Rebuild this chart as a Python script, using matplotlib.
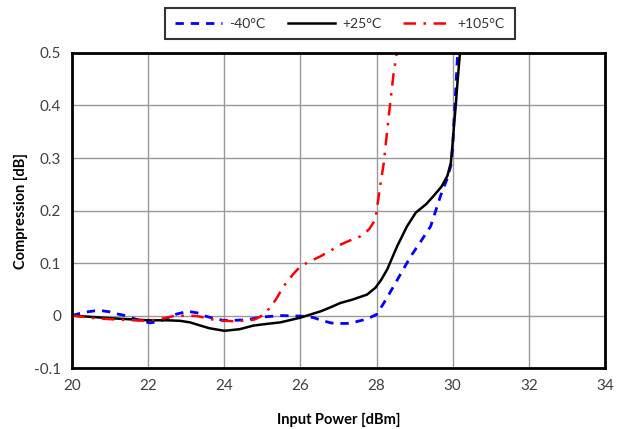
import matplotlib
matplotlib.use("Agg")
import matplotlib.pyplot as plt

plt.rcParams['font.family'] = ['Lato', 'DejaVu Sans']

# -40°C
p_cold = [20.0, 20.2, 20.4, 20.6, 20.8, 21.0, 21.2, 21.4, 21.6, 21.8, 22.05, 22.3, 22.5, 22.75,
          23.05, 23.3, 23.5, 23.75, 23.97, 24.3, 24.6, 24.95, 25.5, 26.0, 26.2, 26.35, 26.55,
          26.8, 27.0, 27.23, 27.45, 27.67, 27.85, 28.0, 28.2, 28.45, 28.7, 28.9, 29.15, 29.42,
          29.68, 29.85, 29.95, 30.0, 30.03, 30.08, 30.12, 30.2]
c_cold = [0.0, 0.004, 0.007, 0.009, 0.009, 0.007, 0.003, 0.0, -0.005, -0.01, -0.014, -0.011,
          -0.005, 0.003, 0.008, 0.005, -0.001, -0.006, -0.009, -0.009, -0.008, -0.003, 0.0,
          -0.001, -0.002, -0.004, -0.009, -0.014, -0.015, -0.015, -0.012, -0.008, -0.003, 0.002,
          0.025, 0.056, 0.088, 0.113, 0.14, 0.17, 0.228, 0.26, 0.285, 0.32, 0.368, 0.43, 0.489, 0.52]

# +25°C
p_room = [20.0, 21.0, 22.0, 22.5, 22.84, 23.1, 23.28, 23.6, 24.0, 24.4, 24.77, 25.1, 25.47,
          26.0, 26.35, 26.53, 26.8, 27.05, 27.35, 27.75, 27.97, 28.12, 28.28, 28.54, 28.8, 29.03,
          29.3, 29.5, 29.7, 29.86, 29.95, 30.0, 30.04, 30.08, 30.12, 30.19]
c_room = [0.0, -0.005, -0.009, -0.009, -0.01, -0.013, -0.017, -0.024, -0.029, -0.026, -0.019,
          -0.016, -0.013, -0.004, 0.004, 0.008, 0.016, 0.024, 0.03, 0.04, 0.053, 0.068, 0.088,
          0.132, 0.17, 0.196, 0.212, 0.228, 0.245, 0.266, 0.291, 0.33, 0.368, 0.4, 0.44, 0.5]

# +105°C
p_hot = [20.0, 20.6, 21.26, 22.0, 22.35, 22.67, 23.0, 23.28, 23.5, 23.72, 24.0, 24.33, 24.77,
         24.95, 25.12, 25.35, 25.56, 25.8, 26.0, 26.3, 26.53, 26.8, 27.05, 27.3, 27.58, 27.8,
         27.97, 28.08, 28.19, 28.32, 28.45, 28.53, 28.56]
c_hot = [0.0, -0.005, -0.008, -0.01, -0.006, -0.001, 0.0, -0.001, -0.004, -0.008, -0.01,
         -0.011, -0.008, -0.002, 0.008, 0.03, 0.056, 0.078, 0.094, 0.105, 0.113, 0.124, 0.135,
         0.143, 0.151, 0.164, 0.183, 0.24, 0.291, 0.38, 0.463, 0.5, 0.52]

x_ticks = [20, 22, 24, 26, 28, 30, 32, 34]
y_ticks = [-0.1, 0, 0.1, 0.2, 0.3, 0.4, 0.5]
y_labels = ["-0.1", "0", "0.1", "0.2", "0.3", "0.4", "0.5"]

fig = plt.figure(figsize=(6.18, 4.29), dpi=100)
ax = fig.add_axes([0.1165, 0.142, 0.8625, 0.7345])

ax.plot(p_cold, c_cold, color="blue", linestyle=(0, (3, 2.5)), linewidth=2, label="-40°C")
ax.plot(p_room, c_room, color="black", linestyle="-", linewidth=1.8, label="+25°C")
ax.plot(p_hot, c_hot, color="red", linestyle=(0, (5, 3, 1, 3)), linewidth=1.8, label="+105°C")

ax.set_xlim(20, 34)
ax.set_ylim(-0.1, 0.5)
ax.set_xticks(x_ticks)
ax.set_yticks(y_ticks)
ax.set_yticklabels(y_labels)
ax.tick_params(length=0, labelsize=11, pad=8, labelcolor="#404040")
ax.grid(True, color="#999999", linewidth=1)
for s in ax.spines.values():
    s.set_linewidth(2)
    s.set_color("black")

ax.set_xlabel("Input Power [dBm]", fontsize=10.5, fontweight="bold", labelpad=14)
ax.set_ylabel("Compression [dB]", fontsize=10.5, fontweight="bold", labelpad=4)

leg = fig.legend(loc="center", bbox_to_anchor=(0.5502, 0.945), ncol=3, fontsize=10,
                 frameon=True, fancybox=False, edgecolor="black", handlelength=3.4,
                 handletextpad=0.5, columnspacing=1.6, borderpad=0.7, borderaxespad=0,
                 labelcolor="#333333")
leg.get_frame().set_linewidth(1.5)

fig.savefig("out.png", dpi=100)
